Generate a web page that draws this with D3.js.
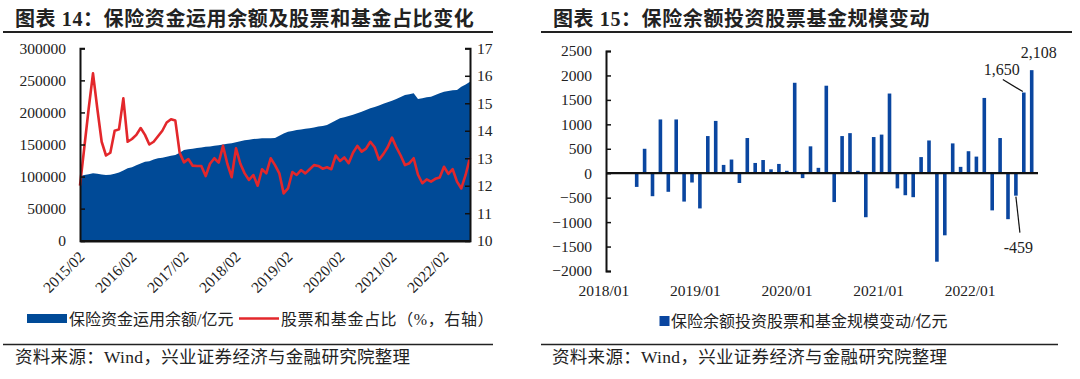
<!DOCTYPE html>
<html><head><meta charset="utf-8">
<script src="https://cdn.jsdelivr.net/npm/d3@7"></script>
<style>
body{margin:0;background:#fff}
svg{display:block}
text{font-family:"Liberation Serif","Noto Sans CJK SC",serif;fill:#222}
</style>
</head><body>
<svg id="c" width="1080" height="379"></svg>
<script>
// ---------------- DATA ----------------
// Left chart: monthly, 2015/02 .. 2022/08
const leftMonths = d3.timeMonth.range(new Date(2015,1,1), new Date(2022,8,1)).map(d3.timeFormat("%Y/%m"));
const balance = [100900,102500,103800,105000,104500,103200,102400,103000,104500,106500,109500,112900,
  114500,117500,120500,123200,124000,126500,128500,129500,131000,132500,133600,137000,
  141400,142500,143500,144500,145500,146600,147000,148000,149000,150000,151000,151800,
  153500,155000,156500,157500,158500,159000,159600,159800,159700,160000,163500,167000,
  170000,171000,172500,173500,174500,175200,176500,178000,179000,180400,184000,187500,
  190800,192500,194500,196500,198600,201000,203800,206400,208500,211000,213500,216000,
  218300,221000,224000,227200,228500,229800,220900,222000,223500,224600,227000,230000,
  232400,233500,234500,235000,240100,243500,248000];
const stockShare = [12.0,13.4,14.8,16.09,14.8,13.6,13.1,13.2,14.0,14.05,15.18,13.6,
  13.7,13.85,14.1,13.85,13.5,13.6,13.8,14.0,14.3,14.42,14.37,13.2,
  12.85,12.97,12.73,12.72,12.72,12.35,12.8,13.0,12.84,13.45,12.8,12.31,
  13.36,12.8,12.45,12.21,12.39,12.0,12.6,12.45,13.0,12.75,12.45,11.72,
  11.9,12.5,12.39,12.57,12.45,12.6,12.75,12.72,12.62,12.67,12.6,13.1,
  12.9,13.03,12.82,13.2,13.45,13.24,13.35,13.6,13.4,12.95,13.15,13.4,
  13.75,13.4,13.1,12.75,12.82,13.0,12.4,12.09,12.23,12.15,12.25,12.3,
  12.69,12.43,12.6,12.15,11.9,12.4,13.02];
const leftXTickLabels = ["2015/02","2016/02","2017/02","2018/02","2019/02","2020/02","2021/02","2022/02"];
const leftYTicks = [0,50000,100000,150000,200000,250000,300000];
const leftY2Ticks = [10,11,12,13,14,15,16,17];

// Right chart: monthly 2018/05 .. 2022/07
const barMonths = d3.timeMonth.range(new Date(2018,4,1), new Date(2022,7,1)).map(d3.timeFormat("%Y/%m"));
const barValues = [-280,500,-470,1100,-380,1100,-580,-190,-720,760,
  1070,170,280,-200,720,210,270,80,190,50,
  1850,-100,550,110,1790,-590,760,820,50,-900,
  740,790,1630,-310,-450,-490,330,670,-1810,-1270,
  610,130,450,340,1540,-760,720,-940,-459,1650,2108];
const rightXTickLabels = ["2018/01","2019/01","2020/01","2021/01","2022/01"];
const rightYTicks = [-2000,-1500,-1000,-500,0,500,1000,1500,2000,2500];
const barLabels = [
  {month:"2022/07", text:"2,108"},
  {month:"2022/06", text:"1,650"},
  {month:"2022/05", text:"-459"}
];

// ---------------- DRAW ----------------
const svg = d3.select("#c");
svg.append("rect").attr("width",1080).attr("height",379).attr("fill","#fff");
const BLUE = "#004a97", RED = "#e3272b", BAR = "#0a46a0";
const fontCJK = 16;

// Titles & rules
svg.append("text").attr("x",15).attr("y",26).attr("font-size",20).attr("font-weight","bold")
  .attr("letter-spacing",0.6).text("图表 14：保险资金运用余额及股票和基金占比变化");
svg.append("text").attr("x",553).attr("y",26).attr("font-size",20).attr("font-weight","bold")
  .attr("letter-spacing",0.6).text("图表 15：保险余额投资股票基金规模变动");
[[3,493],[541,1072]].forEach(([a,b])=>{
  svg.append("line").attr("x1",a).attr("x2",b).attr("y1",32).attr("y2",32).attr("stroke","#222").attr("stroke-width",2);
});
[[3,493],[541,1058]].forEach(([a,b])=>{
  svg.append("line").attr("x1",a).attr("x2",b).attr("y1",344.5).attr("y2",344.5).attr("stroke","#222").attr("stroke-width",1.5);
});
// Sources
svg.append("text").attr("x",15).attr("y",363).attr("font-size",17.5).attr("letter-spacing",0.3).text("资料来源：Wind，兴业证券经济与金融研究院整理");
svg.append("text").attr("x",552).attr("y",363).attr("font-size",17.5).attr("letter-spacing",0.3).text("资料来源：Wind，兴业证券经济与金融研究院整理");

// ---------- Left chart ----------
const lx = d3.scalePoint().domain(leftMonths).range([80,470]);
const ly = d3.scaleLinear().domain([0,300000]).range([240.7,48.3]);
const ly2 = d3.scaleLinear().domain([10,17]).range([240.7,48.3]);

svg.append("path").datum(balance)
  .attr("d", d3.area().x((d,i)=>lx(leftMonths[i])).y0(ly(0)).y1(d=>ly(d)))
  .attr("fill",BLUE);
svg.append("path").datum(stockShare)
  .attr("d", d3.line().x((d,i)=>lx(leftMonths[i])).y(d=>ly2(d)))
  .attr("fill","none").attr("stroke",RED).attr("stroke-width",2.6).attr("stroke-linejoin","round");

const gly = svg.append("g").attr("transform","translate(80,0)")
  .call(d3.axisRight(ly).tickValues(leftYTicks).tickSize(5).tickFormat(d3.format("d")));
gly.selectAll("text").attr("x",-14).attr("text-anchor","end").attr("font-size",15.5).attr("fill","#222");
const gly2 = svg.append("g").attr("transform","translate(470,0)")
  .call(d3.axisLeft(ly2).tickValues(leftY2Ticks).tickSize(5).tickFormat(d3.format("d")));
gly2.selectAll("text").attr("x",7).attr("text-anchor","start").attr("font-size",15.5).attr("fill","#222");
[gly,gly2].forEach(g=>{g.select(".domain").attr("stroke","#111").attr("stroke-width",2);
  g.selectAll(".tick line").attr("stroke","#111").attr("stroke-width",1.5);});

const glx = svg.append("g").attr("transform",`translate(0,${ly(0)})`)
  .call(d3.axisBottom(lx).tickValues(leftXTickLabels).tickSize(0));
glx.select(".domain").attr("stroke","#111").attr("stroke-width",2.5);
glx.selectAll("text").attr("font-size",15.5).attr("fill","#222")
  .attr("text-anchor","end").attr("y",0).attr("dy",0)
  .attr("transform","translate(5,17) rotate(-45)");

// Left legend
svg.append("rect").attr("x",27).attr("y",314).attr("width",40).attr("height",9).attr("fill",BLUE);
svg.append("text").attr("x",69).attr("y",325).attr("font-size",fontCJK).text("保险资金运用余额/亿元");
svg.append("line").attr("x1",239).attr("x2",279).attr("y1",318.5).attr("y2",318.5).attr("stroke",RED).attr("stroke-width",2.6);
svg.append("text").attr("x",281).attr("y",325).attr("font-size",fontCJK).attr("letter-spacing",0.6).text("股票和基金占比（%，右轴）");

// ---------- Right chart ----------
const rx = d3.scaleBand().domain(barMonths).range([632.75,1035.65]);
const ry = d3.scaleLinear().domain([-2000,2500]).range([271,51]);
const barW = 3.6;
svg.append("g").selectAll("rect").data(barValues).join("rect")
  .attr("x",(d,i)=>rx(barMonths[i]) + rx.bandwidth()/2 - barW/2)
  .attr("width",barW)
  .attr("y",d=>ry(Math.max(0,d)))
  .attr("height",d=>Math.abs(ry(d)-ry(0)))
  .attr("fill",BAR);

const gry = svg.append("g").attr("transform","translate(606,0)")
  .call(d3.axisRight(ry).tickValues(rightYTicks).tickSize(5).tickFormat(d3.format("d")));
gry.selectAll("text").attr("x",-14).attr("text-anchor","end").attr("font-size",15.5).attr("fill","#222");
gry.select(".domain").attr("stroke","#111").attr("stroke-width",2);
gry.selectAll(".tick line").attr("stroke","#111").attr("stroke-width",1.5);

// zero line
svg.append("line").attr("x1",606).attr("x2",1038).attr("y1",ry(0)).attr("y2",ry(0)).attr("stroke","#111").attr("stroke-width",2.2);

const ryear = d3.scalePoint().domain(rightXTickLabels).range([603.3,969.7]);
const grx = svg.append("g").attr("transform","translate(0,285)")
  .call(d3.axisBottom(ryear).tickSize(0));
grx.select(".domain").remove();
grx.selectAll("text").attr("font-size",15.5).attr("fill","#222").attr("y",0).attr("dy","0.71em");

// annotations
const vOf = m => barValues[barMonths.indexOf(m)];
const cx = m => rx(m) + rx.bandwidth()/2;
const a0 = barLabels[0], a1 = barLabels[1], a2 = barLabels[2];
svg.append("text").attr("x",cx(a0.month)+7).attr("y",ry(vOf(a0.month))-12).attr("text-anchor","middle").attr("font-size",16).text(a0.text);
svg.append("text").attr("x",cx(a1.month)-22).attr("y",ry(vOf(a1.month))-18).attr("text-anchor","middle").attr("font-size",16).text(a1.text);
svg.append("line").attr("x1",cx(a1.month)-21).attr("y1",ry(vOf(a1.month))-13).attr("x2",cx(a1.month)-1).attr("y2",ry(vOf(a1.month))-1)
  .attr("stroke","#111").attr("stroke-width",1.2);
svg.append("line").attr("x1",cx(a2.month)).attr("y1",ry(vOf(a2.month))+1).attr("x2",cx(a2.month)+4).attr("y2",ry(vOf(a2.month))+37)
  .attr("stroke","#111").attr("stroke-width",1.2);
svg.append("text").attr("x",cx(a2.month)+2.5).attr("y",ry(vOf(a2.month))+57).attr("text-anchor","middle").attr("font-size",16).text(a2.text);

// Right legend
svg.append("rect").attr("x",659.5).attr("y",316).attr("width",10).attr("height",10).attr("fill",BAR);
svg.append("text").attr("x",671).attr("y",327).attr("font-size",fontCJK).text("保险余额投资股票和基金规模变动/亿元");
</script>
</body></html>
